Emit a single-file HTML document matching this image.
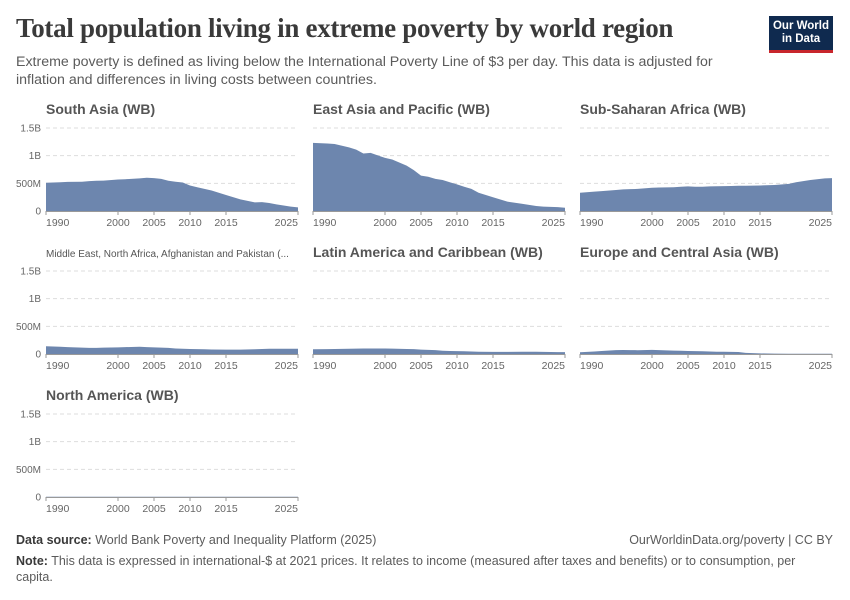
<!DOCTYPE html>
<html><head><meta charset="utf-8">
<style>
body{margin:0;width:850px;height:600px;background:#fff;font-family:"Liberation Sans",sans-serif;overflow:hidden;position:relative}
.t{position:absolute;margin:0}
</style></head><body>
<h1 class="t" style="left:16px;top:13px;font-family:'Liberation Serif',serif;font-size:27px;font-weight:bold;color:#3a3a3a;letter-spacing:-0.3px">Total population living in extreme poverty by world region</h1>
<p class="t" style="left:16px;top:53px;font-size:14.2px;line-height:18px;color:#5b5b5b;width:725px">Extreme poverty is defined as living below the International Poverty Line of $3 per day. This data is adjusted for inflation and differences in living costs between countries.</p>
<div style="position:absolute;left:769px;top:16px;width:64px;height:37px;background:#0f2a4f;border-bottom:3px solid #c8262c;box-sizing:border-box;color:#fff;font-size:11.5px;line-height:13px;text-align:center;padding-top:4px;font-weight:bold">Our World<br>in Data</div>
<svg id="c" width="850" height="600" style="position:absolute;left:0;top:0"></svg>
<p class="t" style="left:16px;top:533px;font-size:12.5px;color:#5b5b5b"><b style="color:#3a3a3a;font-weight:bold">Data source:</b> World Bank Poverty and Inequality Platform (2025)</p>
<p class="t" style="right:17px;top:533px;font-size:12.5px;color:#5b5b5b">OurWorldinData.org/poverty | CC BY</p>
<p class="t" style="left:16px;top:553px;font-size:12.5px;line-height:16px;color:#5b5b5b;width:800px"><b style="color:#3a3a3a">Note:</b> This data is expressed in international-$ at 2021 prices. It relates to income (measured after taxes and benefits) or to consumption, per capita.</p>
<script>
const regions=["South Asia (WB)","East Asia and Pacific (WB)","Sub-Saharan Africa (WB)","Middle East, North Africa, Afghanistan and Pakistan (...","Latin America and Caribbean (WB)","Europe and Central Asia (WB)","North America (WB)"];
const years=[1990,1992,1993,1995,1996,1997,1998,2000,2001,2003,2004,2005,2006,2007,2008,2009,2010,2011,2012,2013,2015,2017,2019,2020,2021,2022,2024,2025];
const southAsia=[510,520,525,530,540,545,550,570,575,590,600,595,580,545,530,515,460,430,400,370,290,210,155,160,145,120,80,65];
const eastAsia=[1230,1220,1210,1150,1110,1040,1050,960,930,820,740,640,620,580,560,520,480,440,400,330,250,170,130,110,90,80,70,60];
const ssa=[330,350,360,380,390,395,400,420,425,430,440,445,440,440,445,448,450,452,455,455,460,470,490,520,540,560,590,595];
const mena=[140,130,125,115,110,110,115,120,125,130,125,120,115,110,100,95,90,88,85,82,80,80,85,90,95,95,95,95];
const lac=[85,88,90,95,98,100,100,100,98,90,88,80,75,70,60,55,52,50,45,42,38,38,40,42,40,38,35,35];
const eca=[30,45,55,70,72,70,68,75,70,62,58,55,52,50,45,42,40,38,36,20,10,8,6,6,5,5,4,4];
const na=[3,3,3,3,3,3,3,3,3,3,3,3,3,3,3,3,3,3,3,3,3,3,3,3,3,3,3,3];
const series=[southAsia,eastAsia,ssa,mena,lac,eca,na];
const yTicks=[0,500,1000,1500];
const yTickLabels=["0","500M","1B","1.5B"];
const xTicks=[1990,2000,2005,2010,2015,2025];
const svg=document.getElementById('c');const NS='http://www.w3.org/2000/svg';
function mk(tag,attrs,parent){const e=document.createElementNS(NS,tag);for(const k in attrs)e.setAttribute(k,attrs[k]);(parent||svg).appendChild(e);return e;}
const colX=[46,313,580],rowY=[211,354,497],W=252,H=83;
series.forEach((vals,i)=>{
 const col=i%3;
 const x0=colX[col],y0=rowY[Math.floor(i/3)];
 const xs=y=>x0+(y-1990)/(2025-1990)*W;
 const ys=v=>y0-v/1500*H;
 const g=mk('g',{});
 
 
 const tt=mk('text',{x:x0,y:y0-97,'font-size':i==3?10:14,'font-weight':i==3?'normal':'bold',fill:'#555','font-family':'Liberation Sans, sans-serif'},g);
 tt.textContent=regions[i];
 
 
 yTicks.forEach((t,j)=>{
  if(t>0){const l=mk('line',{x1:x0,x2:x0+W,y1:ys(t),y2:ys(t),stroke:'#ddd','stroke-dasharray':'4,3'},g);
  
  }
  if(col==0){
  const lb=mk('text',{x:x0-5,y:ys(t)+3.5,'font-size':10,fill:'#666','text-anchor':'end'},g);
  lb.textContent=yTickLabels[j];
  
  }
 });
 let d='M'+xs(years[0])+','+y0;
 years.forEach((y,k)=>{d+=' L'+xs(y).toFixed(1)+','+ys(vals[k]).toFixed(1);});
 d+=' L'+xs(years[years.length-1])+','+y0+' Z';
 const a=mk('path',{d:d,fill:'#6d86ae'},g);
 
 
 const ax=mk('line',{x1:x0,x2:x0+W,y1:y0+0.5,y2:y0+0.5,stroke:'#999'},g);
 
 
 xTicks.forEach(t=>{
  const x=xs(t);
  mk('line',{x1:x,x2:x,y1:y0,y2:y0+4,stroke:'#999'},g);
  const lb=mk('text',{x:x,y:y0+15,'font-size':10.5,fill:'#666','text-anchor':t==1990?'start':(t==2025?'end':'middle')},g);
  lb.textContent=t;
  
  
 });
});
</script>
</body></html>
